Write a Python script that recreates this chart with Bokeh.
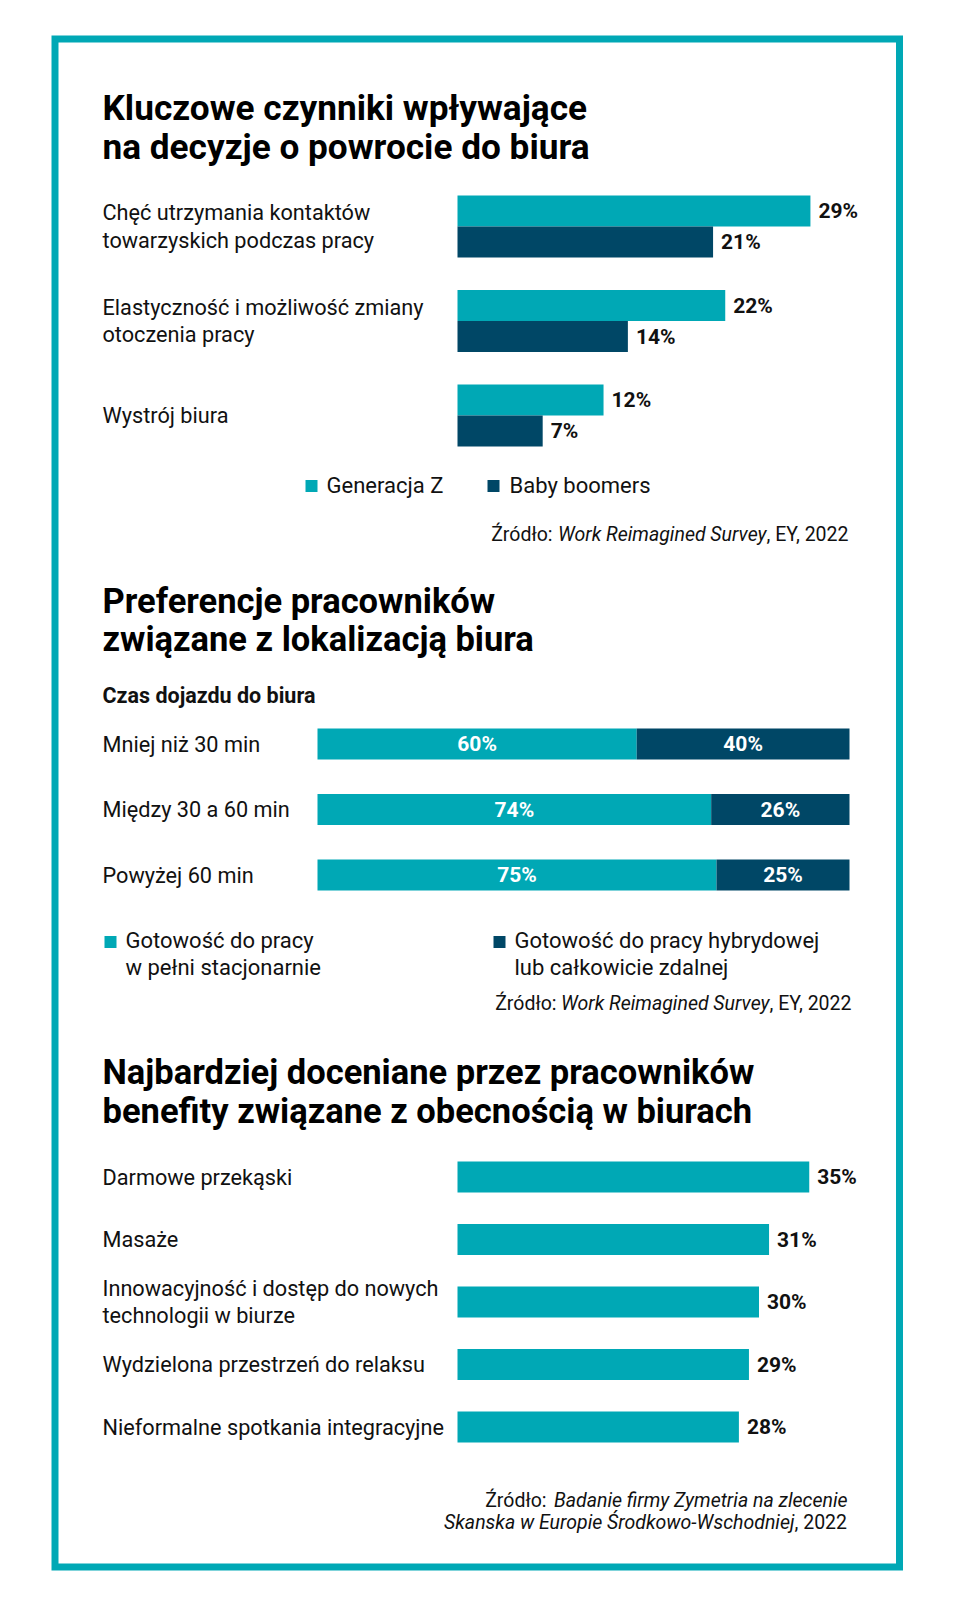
from bokeh.plotting import figure
from bokeh.models import Range1d, ColumnDataSource, BoxAnnotation
from bokeh.core.properties import value
from bokeh.transform import dodge
from bokeh.embed import file_html
from bokeh.resources import INLINE
import numpy as np

# ---------------- data ----------------
c1_title = ["Kluczowe czynniki wpływające", "na decyzje o powrocie do biura"]
c1_categories = ["Chęć utrzymania kontaktów\ntowarzyskich podczas pracy",
                 "Elastyczność i możliwość zmiany\notoczenia pracy",
                 "Wystrój biura"]
c1_genz = [29, 22, 12]
c1_boomers = [21, 14, 7]
c1_series = ["Generacja Z", "Baby boomers"]
c1_source = ["Źródło:", "Work Reimagined Survey", ", EY, 2022"]

c2_title = ["Preferencje pracowników", "związane z lokalizacją biura"]
c2_subtitle = "Czas dojazdu do biura"
c2_categories = ["Mniej niż 30 min", "Między 30 a 60 min", "Powyżej 60 min"]
c2_office = [60, 74, 75]
c2_remote = [40, 26, 25]
c2_series = ["Gotowość do pracy\nw pełni stacjonarnie",
             "Gotowość do pracy hybrydowej\nlub całkowicie zdalnej"]
c2_source = ["Źródło:", "Work Reimagined Survey", ", EY, 2022"]

c3_title = ["Najbardziej doceniane przez pracowników",
            "benefity związane z obecnością w biurach"]
c3_categories = ["Darmowe przekąski", "Masaże",
                 "Innowacyjność i dostęp do nowych\ntechnologii w biurze",
                 "Wydzielona przestrzeń do relaksu",
                 "Nieformalne spotkania integracyjne"]
c3_values = [35, 31, 30, 29, 28]
c3_source_l1 = ["Źródło:", "Badanie firmy Zymetria na zlecenie"]
c3_source_l2 = ["Skanska w Europie Środkowo-Wschodniej", ", 2022"]

# ---------------- style ----------------
TEAL = "#00a8b5"
NAVY = "#004766"
INK = "#111111"
FONT = value("Roboto")
W, H = 944, 1576
BODY = "21.7px"
VAL = "21px"
SRC = "19.5px"

p = figure(width=W, height=H, output_backend="svg", toolbar_location=None,
           x_range=Range1d(0, W), y_range=Range1d(H, 0),
           x_axis_type=None, y_axis_type=None, min_border=0)
p.outline_line_color = None
p.grid.visible = False
p.background_fill_color = "white"
p.border_fill_color = "white"


def x_lin(origin, ppu):
    return Range1d((0 - origin) / ppu, (W - origin) / ppu)


def y_lin(origin, ppu):
    return Range1d((H - origin) / ppu, (0 - origin) / ppu)


# frame
p.add_layout(BoxAnnotation(left=54.5, right=899, top=38.5, bottom=1566.5,
                           fill_alpha=0, line_color=TEAL, line_alpha=1,
                           line_width=7, line_join="miter"))


def title(lines, x, y0, dy, size="34.5px"):
    for i, t in enumerate(lines):
        p.text(x=x, y=y0 + i * dy, text=[t], text_font=FONT, text_font_style="bold",
               text_font_size=size, text_color="black", text_baseline="middle")


def label(x, y, t, size=BODY, style="normal", align="left", color=INK, lh=1.2):
    p.text(x=x, y=y, text=[t], text_font=FONT, text_font_style=style,
           text_font_size=size, text_color=color, text_align=align,
           text_baseline="middle", text_line_height=lh)


# ---------------- chart 1 ----------------
title(c1_title, 102, 107, 39, size="35.2px")
p.extra_x_ranges["c1x"] = x_lin(457, 12.17)
p.extra_y_ranges["c1y"] = y_lin(226, 94.5)
h1 = 31 / 94.5
s1 = ColumnDataSource(dict(idx=list(range(len(c1_categories))), cat=c1_categories,
                           genz=c1_genz, boom=c1_boomers,
                           genz_l=[f"{v}%" for v in c1_genz],
                           boom_l=[f"{v}%" for v in c1_boomers]))
for fld, col, off in (("genz", TEAL, -h1 / 2), ("boom", NAVY, h1 / 2)):
    p.hbar(y=dodge("idx", off), left=0, right=fld, height=h1, source=s1,
           fill_color=col, line_color=None, x_range_name="c1x", y_range_name="c1y")
    p.text(x=fld, y=dodge("idx", off), text=fld + "_l", source=s1, x_offset=8,
           text_font=FONT, text_font_style="bold", text_font_size=VAL,
           text_color=INK, text_baseline="middle",
           x_range_name="c1x", y_range_name="c1y")
p.text(x=102, y="idx", text="cat", source=s1, text_font=FONT, text_font_size=BODY,
       text_color=INK, text_baseline="middle", text_line_height=1.1,
       y_range_name="c1y")
# legend
p.scatter(x=[311, 493], y=[485.5, 485.5], marker="square", size=12,
          fill_color=[TEAL, NAVY], line_color=None)
label(326, 485, c1_series[0], size="22px")
label(509, 485, c1_series[1], size="22px")
# source
label(552, 534, c1_source[0], size=SRC, align="right")
label(766, 534, c1_source[1], size=SRC, style="italic", align="right")
label(766, 534, c1_source[2], size=SRC, align="left")

# ---------------- chart 2 ----------------
title(c2_title, 102, 600, 38)
label(102, 695, c2_subtitle, size="21.5px", style="bold")
p.extra_x_ranges["c2x"] = x_lin(317, 5.32)
p.extra_y_ranges["c2y"] = y_lin(743.5, 65.5)
h2 = 31 / 65.5
office = np.array(c2_office)
remote = np.array(c2_remote)
s2 = ColumnDataSource(dict(idx=list(range(len(c2_categories))), cat=c2_categories,
                           office=c2_office, remote=c2_remote,
                           office_mid=office / 2, remote_mid=office + remote / 2,
                           office_l=[f"{v}%" for v in c2_office],
                           remote_l=[f"{v}%" for v in c2_remote]))
p.hbar_stack(["office", "remote"], y="idx", height=h2, color=[TEAL, NAVY], source=s2,
             line_color=None, x_range_name="c2x", y_range_name="c2y")
for fld in ("office", "remote"):
    p.text(x=fld + "_mid", y="idx", text=fld + "_l", source=s2, text_font=FONT,
           text_font_style="bold", text_font_size=VAL, text_color="white",
           text_align="center", text_baseline="middle",
           x_range_name="c2x", y_range_name="c2y")
p.text(x=102, y="idx", text="cat", source=s2, text_font=FONT, text_font_size=BODY,
       text_color=INK, text_baseline="middle", y_range_name="c2y")
p.scatter(x=[110, 499], y=[941.5, 941.5], marker="square", size=12,
          fill_color=[TEAL, NAVY], line_color=None)
label(125, 953.5, c2_series[0], size="22px", lh=1.05)
label(514, 953.5, c2_series[1], size="22px", lh=1.05)
label(556, 1003, c2_source[0], size=SRC, align="right")
label(769, 1003, c2_source[1], size=SRC, style="italic", align="right")
label(769, 1003, c2_source[2], size=SRC, align="left")

# ---------------- chart 3 ----------------
title(c3_title, 102, 1071, 39)
p.extra_x_ranges["c3x"] = x_lin(457, 10.05)
p.extra_y_ranges["c3y"] = y_lin(1176.5, 62.5)
h3 = 31 / 62.5
s3 = ColumnDataSource(dict(idx=list(range(len(c3_categories))), cat=c3_categories,
                           val=c3_values, lbl=[f"{v}%" for v in c3_values]))
p.hbar(y="idx", left=0, right="val", height=h3, source=s3, fill_color=TEAL,
       line_color=None, x_range_name="c3x", y_range_name="c3y")
p.text(x="val", y="idx", text="lbl", source=s3, x_offset=8, text_font=FONT,
       text_font_style="bold", text_font_size=VAL, text_color=INK,
       text_baseline="middle", x_range_name="c3x", y_range_name="c3y")
p.text(x=102, y="idx", text="cat", source=s3, text_font=FONT, text_font_size=BODY,
       text_color=INK, text_baseline="middle", text_line_height=1.1,
       y_range_name="c3y")
label(546, 1500, c3_source_l1[0], size=SRC, align="right")
label(847, 1500, c3_source_l1[1], size=SRC, style="italic", align="right")
label(794, 1522, c3_source_l2[0], size=SRC, style="italic", align="right")
label(794, 1522, c3_source_l2[1], size=SRC, align="left")

open("out.html", "w").write(file_html(p, INLINE))
